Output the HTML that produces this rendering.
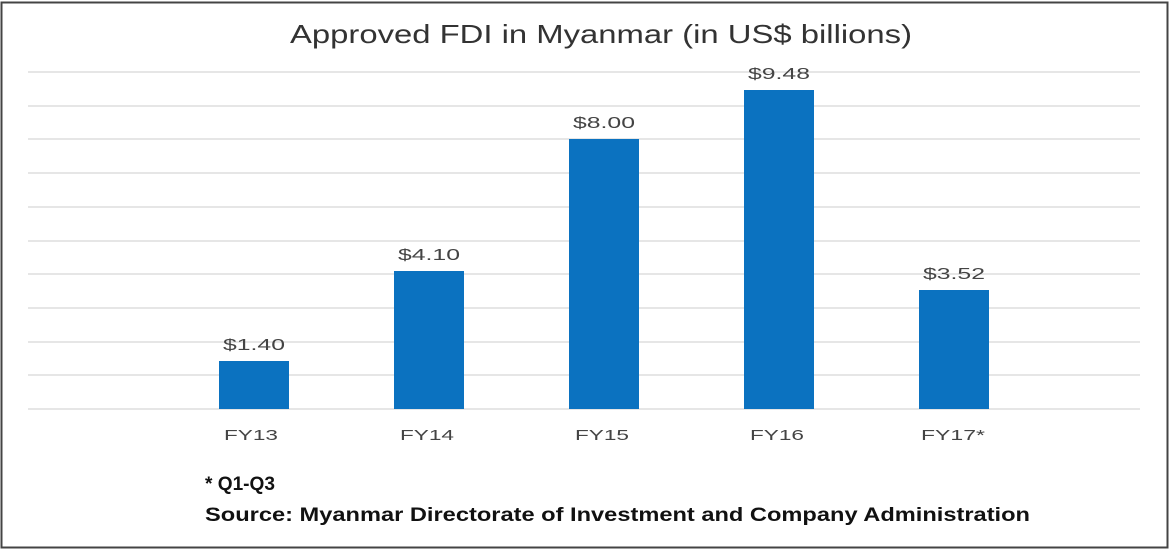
<!DOCTYPE html>
<html><head><meta charset="utf-8"><style>
html,body{margin:0;padding:0;background:#fff;}
</style></head><body>
<svg width="1170" height="550" xmlns="http://www.w3.org/2000/svg" font-family="Liberation Sans, sans-serif">
<rect x="1.5" y="2.5" width="1166" height="545" fill="#fff" stroke="#444" stroke-width="2"/>
<text x="290" y="43" font-size="26" fill="#333" textLength="622" lengthAdjust="spacingAndGlyphs">Approved FDI in Myanmar (in US$ billions)</text>
<g stroke="#dedede" stroke-width="1.5">
<line x1="28" x2="1140" y1="72" y2="72"/><line x1="28" x2="1140" y1="106" y2="106"/>
<line x1="28" x2="1140" y1="139" y2="139"/><line x1="28" x2="1140" y1="173" y2="173"/>
<line x1="28" x2="1140" y1="207" y2="207"/><line x1="28" x2="1140" y1="241" y2="241"/>
<line x1="28" x2="1140" y1="274" y2="274"/><line x1="28" x2="1140" y1="308" y2="308"/>
<line x1="28" x2="1140" y1="342" y2="342"/><line x1="28" x2="1140" y1="375" y2="375"/>
<line x1="28" x2="1140" y1="409" y2="409"/>
</g>
<g fill="#0b72c0">
<rect x="219" y="361" width="70" height="48"/>
<rect x="394" y="271" width="70" height="138"/>
<rect x="569" y="139" width="70" height="270"/>
<rect x="744" y="90" width="70" height="319"/>
<rect x="919" y="290" width="70" height="119"/>
</g>
<g font-size="16" fill="#444">
<text x="223" y="350" textLength="62" lengthAdjust="spacingAndGlyphs">$1.40</text>
<text x="398" y="260" textLength="62" lengthAdjust="spacingAndGlyphs">$4.10</text>
<text x="573" y="128" textLength="62" lengthAdjust="spacingAndGlyphs">$8.00</text>
<text x="748" y="79" textLength="62" lengthAdjust="spacingAndGlyphs">$9.48</text>
<text x="923" y="279" textLength="62" lengthAdjust="spacingAndGlyphs">$3.52</text>
</g>
<g font-size="15" fill="#444">
<text x="224" y="440" textLength="54" lengthAdjust="spacingAndGlyphs">FY13</text>
<text x="400" y="440" textLength="54" lengthAdjust="spacingAndGlyphs">FY14</text>
<text x="575" y="440" textLength="54" lengthAdjust="spacingAndGlyphs">FY15</text>
<text x="750" y="440" textLength="54" lengthAdjust="spacingAndGlyphs">FY16</text>
<text x="921" y="440" textLength="64" lengthAdjust="spacingAndGlyphs">FY17*</text>
</g>
<g font-size="19" font-weight="bold" fill="#111">
<text x="205" y="490" textLength="70" lengthAdjust="spacingAndGlyphs">* Q1-Q3</text>
<text x="205" y="521" textLength="825" lengthAdjust="spacingAndGlyphs">Source: Myanmar Directorate of Investment and Company Administration</text>
</g>
</svg>
</body></html>
